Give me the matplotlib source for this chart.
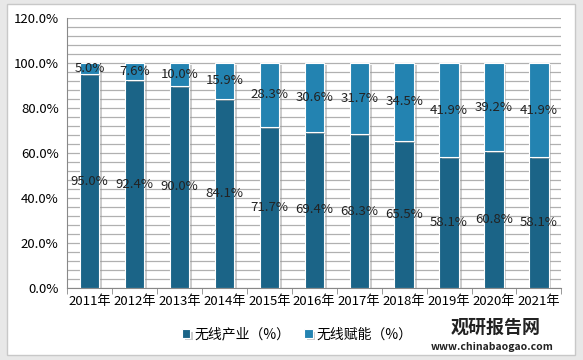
import numpy as np
import matplotlib.pyplot as plt
import matplotlib.patheffects as pe
from matplotlib.patches import Rectangle

plt.rcParams['font.family'] = ['Noto Sans CJK SC', 'DejaVu Sans']

years = ['2011年', '2012年', '2013年', '2014年', '2015年', '2016年',
         '2017年', '2018年', '2019年', '2020年', '2021年']
industry = [95.0, 92.4, 90.0, 84.1, 71.7, 69.4, 68.3, 65.5, 58.1, 60.8, 58.1]
empower = [5.0, 7.6, 10.0, 15.9, 28.3, 30.6, 31.7, 34.5, 41.9, 39.2, 41.9]

dark = '#1b6487'
light = '#2383b1'

fig = plt.figure(figsize=(5.83, 3.6), dpi=100)
fig.patch.set_facecolor('#e8e8e8')
# white panel with border
fig.patches.append(Rectangle((0.012, 0.015), 0.975, 0.975, transform=fig.transFigure,
                             facecolor='white', edgecolor='#c8c8c8', lw=1.0, zorder=-5))

ax = fig.add_axes([0.115, 0.2, 0.848, 0.75])
ax.set_zorder(2)
ax.patch.set_alpha(0)
x = np.arange(len(years))
w = 0.43
shadow = [pe.SimplePatchShadow(offset=(2, -1.5), shadow_rgbFace='#9a9a9a', alpha=0.5), pe.Normal()]
b1 = ax.bar(x, industry, w, color=dark, edgecolor='white', lw=0.8, label='无线产业（%）', zorder=3)
b2 = ax.bar(x, empower, w, bottom=industry, color=light, edgecolor='white', lw=0.8,
            label='无线赋能（%）', zorder=3)
for b in list(b1) + list(b2):
    b.set_path_effects(shadow)

for i in range(len(years)):
    ax.text(x[i], industry[i] / 2, f'{industry[i]:.1f}%', ha='center', va='center',
            fontsize=9.5, color='#222222', zorder=5)
    ax.text(x[i], industry[i] + empower[i] / 2, f'{empower[i]:.1f}%', ha='center',
            va='center', fontsize=9.5, color='#222222', zorder=5)

ax.set_xlim(-0.5, len(years) - 0.5)
ax.set_ylim(0, 120)
ax.set_yticks(np.arange(0, 121, 20))
ax.set_yticklabels([f'{v:.1f}%' for v in np.arange(0, 121, 20)], fontsize=9.5)
ax.set_yticks(np.arange(0, 121, 4), minor=True)
ax.tick_params(axis='y', which='both', length=0, pad=6)
ax.grid(axis='y', which='both', color='#b0b0b0', lw=0.9, zorder=0)
ax.set_xticks(x)
ax.set_xticklabels(years, fontsize=9.5)
ax.set_xticks(np.arange(-0.5, len(years)), minor=True)
ax.tick_params(axis='x', which='major', length=0, pad=5)
ax.tick_params(axis='x', which='minor', length=4, color='#888888')
for s in ['top', 'right']:
    ax.spines[s].set_visible(False)
ax.spines['left'].set_color('#888888')
ax.spines['bottom'].set_color('#888888')
ax.set_axisbelow(True)

fig.legend(handles=[b1, b2], loc='center', bbox_to_anchor=(0.51, 0.07), ncol=2,
           frameon=False, fontsize=10, handlelength=0.6, handleheight=0.6,
           columnspacing=1.0, handletextpad=0.3)

fig.text(0.85, 0.09, '观研报告网', fontsize=13, fontweight='bold', color='#222222',
         ha='center', va='center')
fig.text(0.845, 0.036, 'www.chinabaogao.com', fontsize=7.5, fontweight='bold',
         color='#222222', ha='center', va='center')

fig.savefig('out.png', dpi=100, facecolor=fig.get_facecolor())
